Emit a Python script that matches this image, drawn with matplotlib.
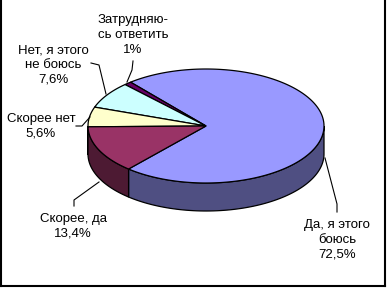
import numpy as np
import matplotlib
matplotlib.use("Agg")
import matplotlib.pyplot as plt
from matplotlib.patches import Polygon

# answers, going counterclockwise from the 12 o'clock side
labels = ["Да, я этого\nбоюсь\n72,5%",
          "Затрудняю-\nсь ответить\n1%",
          "Нет, я этого\nне боюсь\n7,6%",
          "Скорее нет\n5,6%",
          "Скорее, да\n13,4%"]
values = [72.5, 1.0, 7.6, 5.6, 13.4]
top_colors = ["#9999FF", "#660066", "#CCFFFF", "#FFFFCC", "#993366"]
side_colors = ["#4f4f82", "#330033", "#667f7f", "#7f7f66", "#4d1a33"]

# geometry of the pie in pixels
cx, cy = 206, 126
rx, ry = 118, 57
depth = 28
start = -131.0

label_pos = [(337, 240), (133, 35), (53, 65), (41, 126), (73, 226)]
leaders = [
    [(325, 158), (337, 204), (337, 212)],
    [(127, 82), (132, 70), (133, 61)],
    [(106, 94), (99, 65), (91, 63)],
    [(90, 117), (82, 126), (76, 126)],
    [(99, 182), (74, 200), (74, 206)],
]

plt.rcParams['font.family'] = ['Liberation Sans', 'DejaVu Sans']

fig = plt.figure(figsize=(3.87, 2.88), dpi=100)
ax = fig.add_axes([0, 0, 1, 1])
ax.set_xlim(0, 387)
ax.set_ylim(288, 0)
ax.axis('off')


def pt(t, dz=0):
    r = np.radians(t)
    return cx + rx * np.cos(r), cy - ry * np.sin(r) + dz


total = sum(values)
angles = [start]
for v in values:
    angles.append(angles[-1] + 360.0 * v / total)

# side walls (front half only)
for i in range(len(values)):
    a, b = angles[i], angles[i + 1]
    for k in (-1, 0, 1):
        lo = max(a, 180 + 360 * k)
        hi = min(b, 360 + 360 * k)
        if hi <= lo:
            continue
        ts = np.linspace(lo, hi, 80)
        top = [pt(t) for t in ts]
        bot = [pt(t, depth) for t in ts[::-1]]
        ax.add_patch(Polygon(top + bot, closed=True, facecolor=side_colors[i],
                             edgecolor='black', lw=0.9, zorder=2))

# top faces
for i in range(len(values)):
    a, b = angles[i], angles[i + 1]
    ts = np.linspace(a, b, 200)
    verts = [(cx, cy)] + [pt(t) for t in ts]
    ax.add_patch(Polygon(verts, closed=True, facecolor=top_colors[i],
                         edgecolor='black', lw=0.9, zorder=3))

for i in range(len(values)):
    xs, ys = zip(*leaders[i])
    ax.plot(xs, ys, color='black', lw=0.8, zorder=4)
    ax.text(label_pos[i][0], label_pos[i][1], labels[i], ha='center', va='center',
            fontsize=9.5, linespacing=1.3, zorder=5)

# frame
ax.plot([1, 1], [0, 286], color='black', lw=1.5)
ax.plot([385, 385], [0, 286], color='black', lw=1.5)
ax.plot([1, 385], [286, 286], color='black', lw=1.5)

fig.savefig("out.png", dpi=100)
